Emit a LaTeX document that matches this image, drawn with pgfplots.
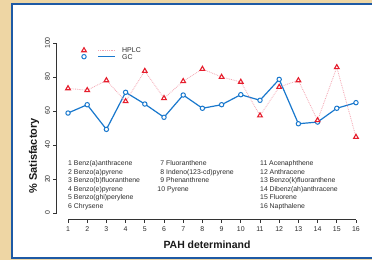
\documentclass[border=0pt]{standalone}
\usepackage{fontspec}
\setmainfont{Liberation Sans}
\usepackage{pgfplots}
\pgfplotsset{compat=1.18}
\definecolor{bg}{RGB}{238,214,164}
\definecolor{panel}{RGB}{30,90,165}
\definecolor{hplcred}{RGB}{230,30,45}
\definecolor{hplcpink}{RGB}{245,165,178}
\definecolor{gcblue}{RGB}{25,120,205}
\definecolor{txt}{RGB}{45,45,45}
\begin{document}
\begin{tikzpicture}[x=1bp,y=1bp]
\useasboundingbox (0,0) rectangle (372,260);
\clip (0,0) rectangle (372,260);
\fill[bg] (0,0) rectangle (372,260);
\draw[panel, line width=2bp, fill=white] (12,2) rectangle (390,256);
\begin{axis}[
  at={(56.5bp,40.2bp)}, anchor=south west,
  scale only axis, width=311bp, height=183.6bp,
  xmin=0.4, xmax=16.6, ymin=-4, ymax=104,
  clip=false,
  axis line style={draw=none},
  xtick={1,...,16}, ytick={0,20,...,100},
  tick pos=left,
  tick align=outside, major tick length=3bp,
  tick style={black!80, line width=0.7bp},
  ticklabel style={font=\fontsize{7}{8}\selectfont, text=txt},
  /pgf/number format/assume math mode=true,
  yticklabel style={rotate=90, anchor=south},
]
\addplot[color=gcblue, line width=1.2bp, mark=*, mark size=2.2bp,
  mark options={solid, fill=white, line width=1bp}] coordinates {
(1,58.8) (2,63.7) (3,49.2) (4,71.0) (5,64.1) (6,56.3) (7,69.4) (8,61.6)
(9,63.7) (10,69.6) (11,66.3) (12,78.6) (13,52.5) (14,53.5) (15,61.6) (16,64.9)};
\addplot[color=hplcpink, densely dotted, line width=0.8bp, mark=triangle*, mark size=2.7bp,
  mark options={solid, draw=hplcred, fill=white, line width=1.1bp}] coordinates {
(1,73.3) (2,72.2) (3,78.0) (4,65.7) (5,83.5) (6,67.5) (7,77.5) (8,84.7)
(9,80.0) (10,77.1) (11,57.3) (12,74.1) (13,78.0) (14,54.5) (15,85.7) (16,44.7)};
\draw[black!80, line width=0.8bp] (axis cs:1,-4) -- (axis cs:16,-4);
\draw[black!80, line width=0.8bp] (axis cs:0.4,0) -- (axis cs:0.4,100);
\begin{scope}[every node/.style={anchor=base west, inner sep=0pt, font=\fontsize{6.9}{8}\selectfont, text=txt}]
\node at (axis cs:1,27.8) {1 Benz(a)anthracene};
\node at (axis cs:1,22.8) {2 Benzo(a)pyrene};
\node at (axis cs:1,17.8) {3 Benzo(b)fluoranthene};
\node at (axis cs:1,12.8) {4 Benzo(e)pyrene};
\node at (axis cs:1,7.8) {5 Benzo(ghi)perylene};
\node at (axis cs:1,2.8) {6 Chrysene};
\node at (axis cs:5.8,27.8) {7 Fluoranthene};
\node at (axis cs:5.8,22.8) {8 Indeno(123-cd)pyrene};
\node at (axis cs:5.8,17.8) {9 Phenanthrene};
\node at (axis cs:5.65,12.8) {10 Pyrene};
\node at (axis cs:11,27.8) {11 Acenaphthene};
\node at (axis cs:11,22.8) {12 Anthracene};
\node at (axis cs:11,17.8) {13 Benzo(k)fluoranthene};
\node at (axis cs:11,12.8) {14 Dibenz(ah)anthracene};
\node at (axis cs:11,7.8) {15 Fluorene};
\node at (axis cs:11,2.8) {16 Napthalene};
\end{scope}
\end{axis}
% legend
\draw[hplcpink, densely dotted, line width=0.8bp] (98,210) -- (115,210);
\draw[hplcred, fill=white, line width=1.1bp] ([shift={(84,209.6)}]90:2.7) -- ([shift={(84,209.6)}]210:2.7) -- ([shift={(84,209.6)}]330:2.7) -- cycle;
\node[anchor=west, inner sep=0pt, font=\fontsize{7}{8}\selectfont, text=txt] at (122,210) {HPLC};
\draw[gcblue, line width=1.2bp] (98,203.3) -- (115,203.3);
\draw[gcblue, fill=white, line width=1bp] (84,203.3) circle[radius=2.2];
\node[anchor=west, inner sep=0pt, font=\fontsize{7}{8}\selectfont, text=txt] at (122,203.3) {GC};
\node[font=\bfseries\fontsize{10.5}{12}\selectfont, text=black!90] at (207,15) {PAH determinand};
\node[rotate=90, font=\bfseries\fontsize{11}{12}\selectfont, text=black!90] at (34,104) {\% Satisfactory};
\end{tikzpicture}
\end{document}
